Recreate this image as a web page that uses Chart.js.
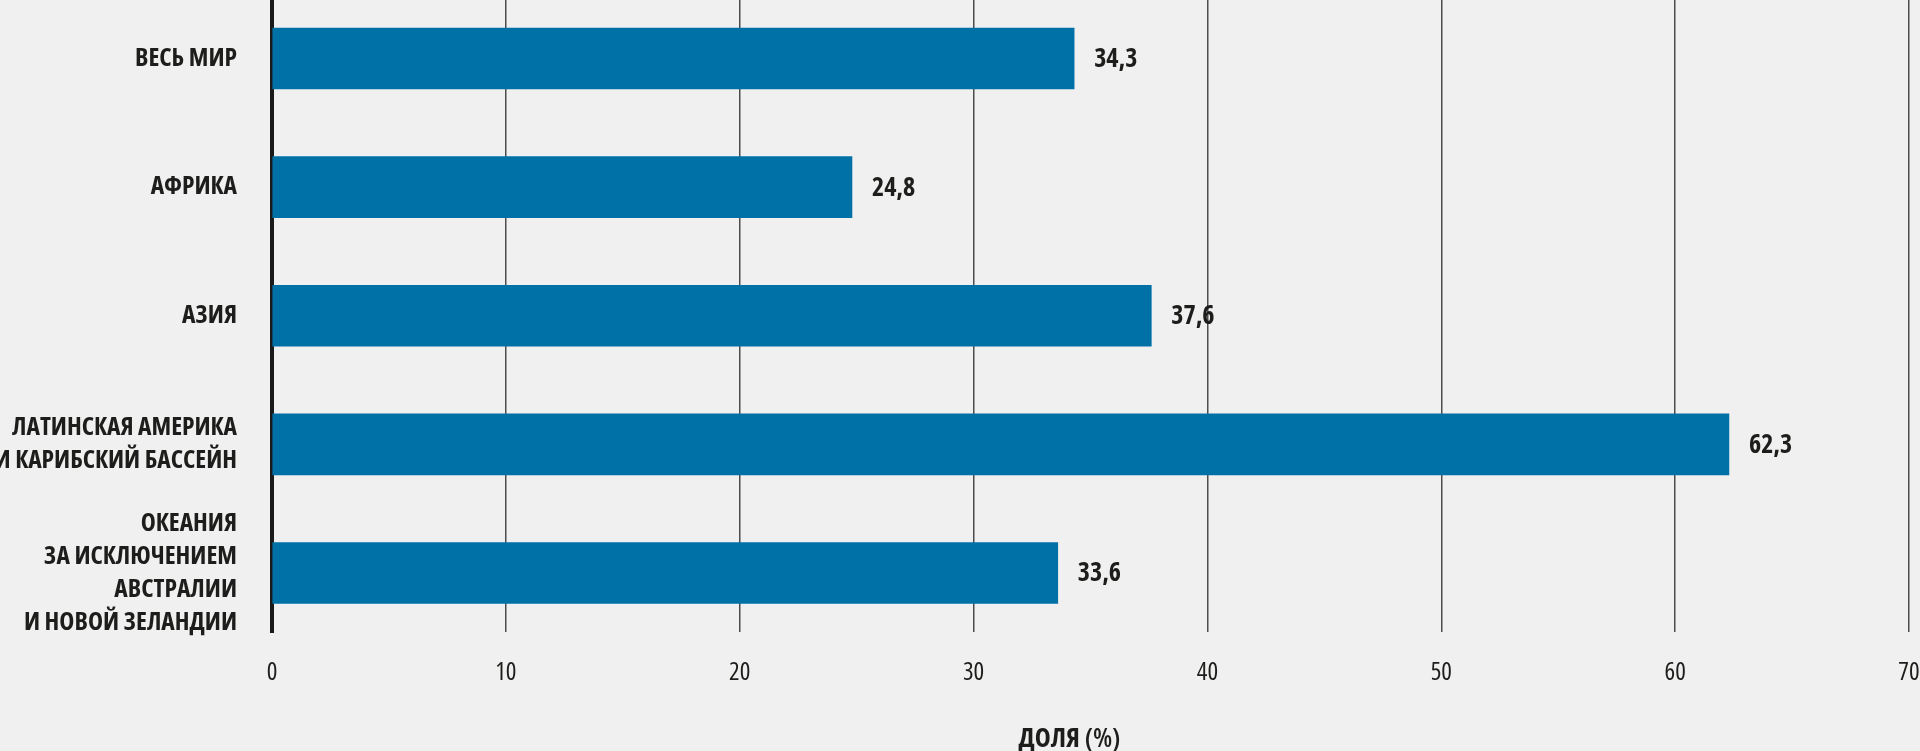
<!DOCTYPE html>
<html>
<head>
<meta charset="utf-8">
<script src="https://cdn.jsdelivr.net/npm/chart.js@4/dist/chart.umd.min.js"></script>
<style>
  html, body { margin: 0; padding: 0; background: #f0f0f0; }
  #wrap { width: 1920px; height: 751px; position: relative; }
</style>
</head>
<body>
<div id="wrap"><canvas id="c" width="1920" height="751"></canvas></div>
<script>
const categories = [
  ['ВЕСЬ МИР'],
  ['АФРИКА'],
  ['АЗИЯ'],
  ['ЛАТИНСКАЯ АМЕРИКА', 'И КАРИБСКИЙ БАССЕЙН'],
  ['ОКЕАНИЯ', 'ЗА ИСКЛЮЧЕНИЕМ', 'АВСТРАЛИИ', 'И НОВОЙ ЗЕЛАНДИИ']
];
const shares = [34.3, 24.8, 37.6, 62.3, 33.6];
const xTicks = [0, 10, 20, 30, 40, 50, 60, 70];
const xTitleBold = 'ДОЛЯ';
const xTitleRegular = ' (%)';

const FONT = "'Open Sans', 'Roboto Condensed', sans-serif";
const TEXT = '#1d1d1b';
const Y_MIN = -0.455, Y_MAX = 4.459;

const valueLabels = {
  id: 'valueLabels',
  afterDatasetsDraw(chart) {
    const ctx = chart.ctx;
    const meta = chart.getDatasetMeta(0);
    ctx.save();
    ctx.font = "bold condensed 26px " + FONT;
    ctx.fillStyle = TEXT;
    ctx.textAlign = 'left';
    ctx.textBaseline = 'middle';
    meta.data.forEach((bar, i) => {
      const v = shares[i].toFixed(1).replace('.', ',');
      ctx.fillText(v, bar.x + 20, bar.y + 1);
    });
    ctx.restore();
  }
};

// Axis title with mixed weights ("ДОЛЯ" bold, "(%)" lighter)
const axisTitle = {
  id: 'axisTitle',
  afterDraw(chart) {
    const ctx = chart.ctx;
    const xs = chart.scales.x;
    ctx.save();
    const fb = "bold condensed 27px " + FONT;
    const fr = "600 condensed 27px " + FONT;
    ctx.font = fb; const wb = ctx.measureText(xTitleBold).width;
    ctx.font = fr; const wr = ctx.measureText(xTitleRegular).width;
    const cx = xs.getPixelForValue(34.1);
    let x = cx - (wb + wr) / 2;
    const y = xs.bottom - 4;
    ctx.fillStyle = TEXT;
    ctx.textAlign = 'left';
    ctx.textBaseline = 'alphabetic';
    ctx.font = fb; ctx.fillText(xTitleBold, x, y);
    ctx.font = fr; ctx.fillText(xTitleRegular, x + wb, y);
    ctx.restore();
  }
};

new Chart(document.getElementById('c'), {
  type: 'bar',
  data: {
    datasets: [{
      data: shares.map((v, i) => ({ x: v, y: i })),
      backgroundColor: '#0071a7',
      borderWidth: 0,
      barThickness: 61
    }]
  },
  options: {
    indexAxis: 'y',
    responsive: false,
    animation: false,
    devicePixelRatio: 1,
    layout: { padding: { top: 0, right: 11, bottom: 0, left: 0 } },
    plugins: { legend: { display: false }, tooltip: { enabled: false } },
    scales: {
      x: {
        type: 'linear',
        position: 'bottom',
        min: 0,
        max: 70,
        afterBuildTicks: (s) => { s.ticks = xTicks.map(v => ({ value: v })); },
        afterFit: (s) => { s.height = 119; s.paddingLeft = 0; s.paddingRight = 0; },
        grid: { color: '#4d4d4d', lineWidth: 1.5, drawTicks: false },
        border: { display: false },
        ticks: {
          padding: 26,
          color: TEXT,
          font: { family: FONT, size: 25, weight: 'normal condensed' }
        },
        title: { display: false }
      },
      y: {
        type: 'linear',
        position: 'left',
        reverse: true,
        bounds: 'data',
        offset: false,
        min: Y_MIN,
        max: Y_MAX,
        z: 1,
        afterBuildTicks: (s) => {
          s.ticks = categories.map((c, i) => ({ value: i }));
          s.min = Y_MIN; s.max = Y_MAX;
        },
        afterFit: (s) => { s.width = 272; s.paddingTop = 0; s.paddingBottom = 0; },
        grid: { display: false, drawTicks: false, offset: false },
        border: { display: true, color: '#1a1a1a', width: 4 },
        ticks: {
          autoSkip: false,
          padding: 35,
          color: TEXT,
          font: { family: FONT, size: 25.5, weight: 'bold condensed', lineHeight: 1.3 },
          callback: (v) => categories[v]
        }
      }
    }
  },
  plugins: [valueLabels, axisTitle]
});
</script>
</body>
</html>
